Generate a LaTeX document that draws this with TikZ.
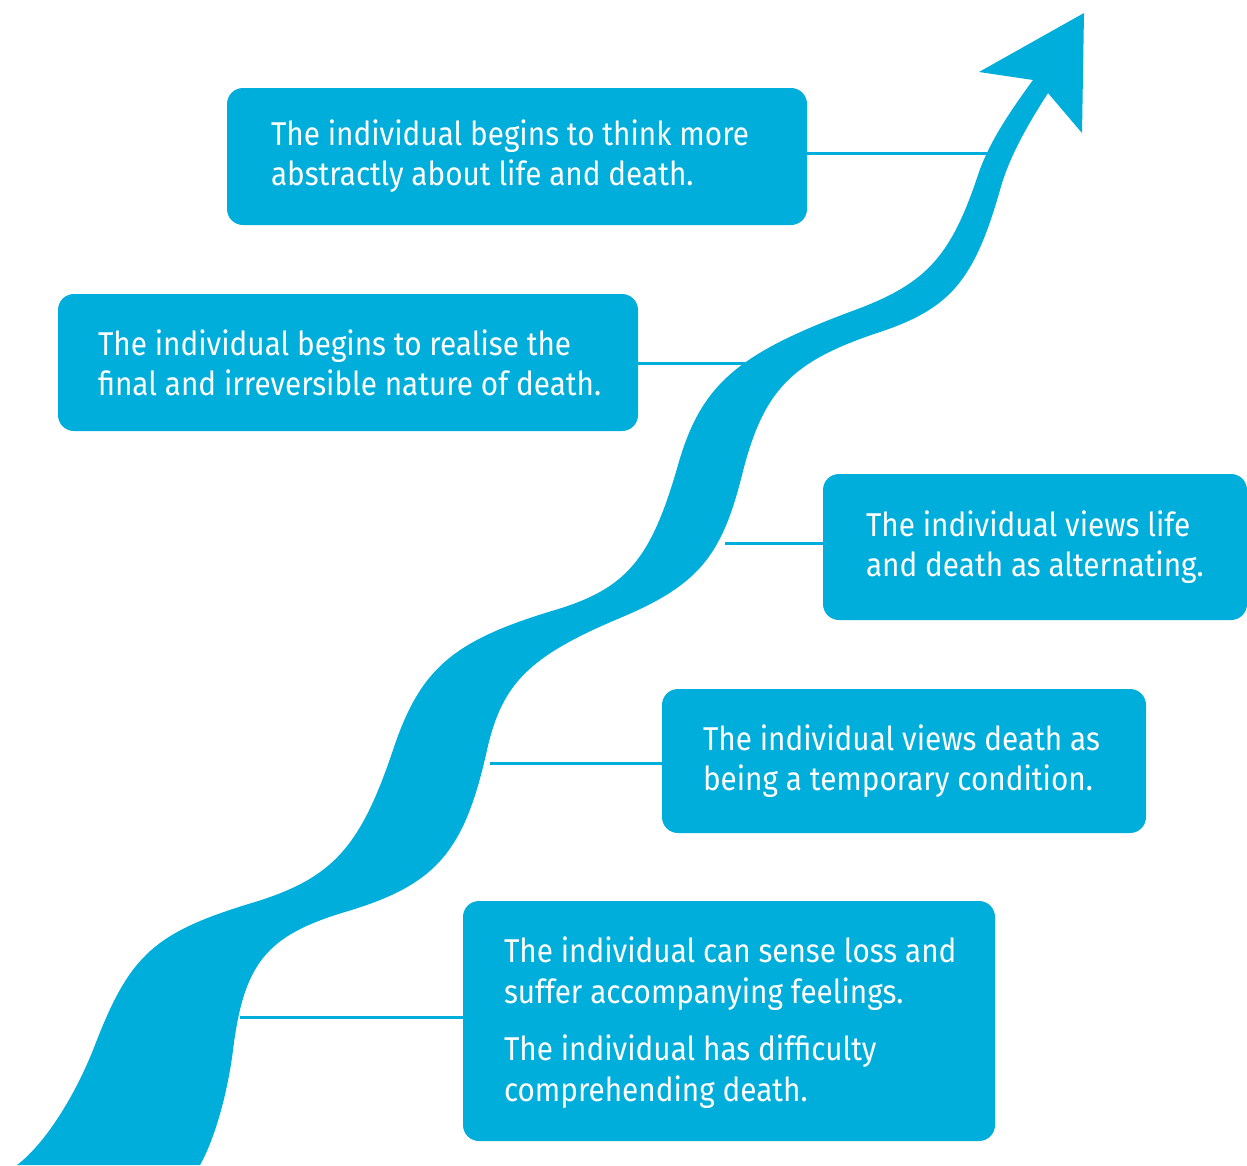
\documentclass[tikz,border=0pt]{standalone}
\usepackage{fontspec}
\setmainfont{Fira Sans}[FakeStretch=0.9]
\definecolor{cy}{RGB}{0,174,219}
\tikzset{
  box/.style={fill=cy, draw=none, rounded corners=16pt, inner sep=0pt},
  txt/.style={text=white, align=left, inner sep=0pt, font=\fontsize{33}{40}\selectfont},
  conn/.style={draw=cy, line width=3pt},
}
\begin{document}
\begin{tikzpicture}[x=1pt,y=-1pt]
\useasboundingbox (0,0) rectangle (1247,1165);
% boxes
\node[box, minimum width=580pt, minimum height=137pt] (b1) at (517,156.5) {};
\node[box, minimum width=580pt, minimum height=137pt] (b2) at (348,362.5) {};
\node[box, minimum width=424pt, minimum height=146pt] (b3) at (1035,547) {};
\node[box, minimum width=484pt, minimum height=144pt] (b4) at (904,761) {};
\node[box, minimum width=532pt, minimum height=240pt] (b5) at (729,1021) {};
% texts
\node[txt, anchor=west] (t1) at ([xshift=44pt]b1.west) {The individual begins to think more\\abstractly about life and death.};
\node[txt, anchor=west] (t2) at ([xshift=40pt]b2.west) {The individual begins to realise the\\final and irreversible nature of death.};
\node[txt, anchor=west] (t3) at ([xshift=43pt]b3.west) {The individual views life\\and death as alternating.};
\node[txt, anchor=west] (t4) at ([xshift=41pt]b4.west) {The individual views death as\\being a temporary condition.};
\node[txt, anchor=west, font=\fontsize{33}{41}\selectfont] (t5) at ([xshift=41pt,yshift=-2pt]b5.west) {The individual can sense loss and\\suffer accompanying feelings.\\[16pt]The individual has difficulty\\comprehending death.};
% connector ends on the ribbon
\coordinate (r1) at (992,153);
\coordinate (r2) at (745,363);
\coordinate (r3) at (725,543);
\coordinate (r4) at (490,763);
\coordinate (r5) at (240,1017);
\draw[conn] (b1.east |- r1) -- (r1);
\draw[conn] (b2.east |- r2) -- (r2);
\draw[conn] (b3.west |- r3) -- (r3);
\draw[conn] (b4.west |- r4) -- (r4);
\draw[conn] (b5.west |- r5) -- (r5);
% ribbon arrow
\fill[cy] (17,1165)
  .. controls (43.9,1144.8) and (75,1097) .. (95,1045)
  .. controls (130,954) and (155,932) .. (255,902)
  .. controls (332.6,877.9) and (360.2,847.5) .. (393,750)
  .. controls (420.1,668.7) and (452.5,640.7) .. (555,610)
  .. controls (626.4,588.6) and (651,559.6) .. (678,465)
  .. controls (700.9,385) and (736.3,353.9) .. (855,310)
  .. controls (926.2,283.6) and (950.8,256.6) .. (978,175)
  .. controls (987.7,146) and (1005.5,117.5) .. (1033,80)
  -- (979,72) -- (1084,13) -- (1082,133) -- (1048,93)
  .. controls (1021.6,134) and (1007.4,163) .. (1000,190)
  .. controls (974.2,280.4) and (950.2,308.6) .. (880,332)
  .. controls (790.9,361.4) and (763.3,390) .. (742,475)
  .. controls (721.5,557.3) and (697.1,585.5) .. (620,618)
  .. controls (528.6,656.4) and (502,683.6) .. (487,750)
  .. controls (464.3,852.3) and (435.9,885.1) .. (345,912)
  .. controls (266.3,935.6) and (243.9,963.2) .. (233,1050)
  .. controls (227.5,1094) and (214.3,1140) .. (200,1165)
  -- cycle;
\end{tikzpicture}
\end{document}
